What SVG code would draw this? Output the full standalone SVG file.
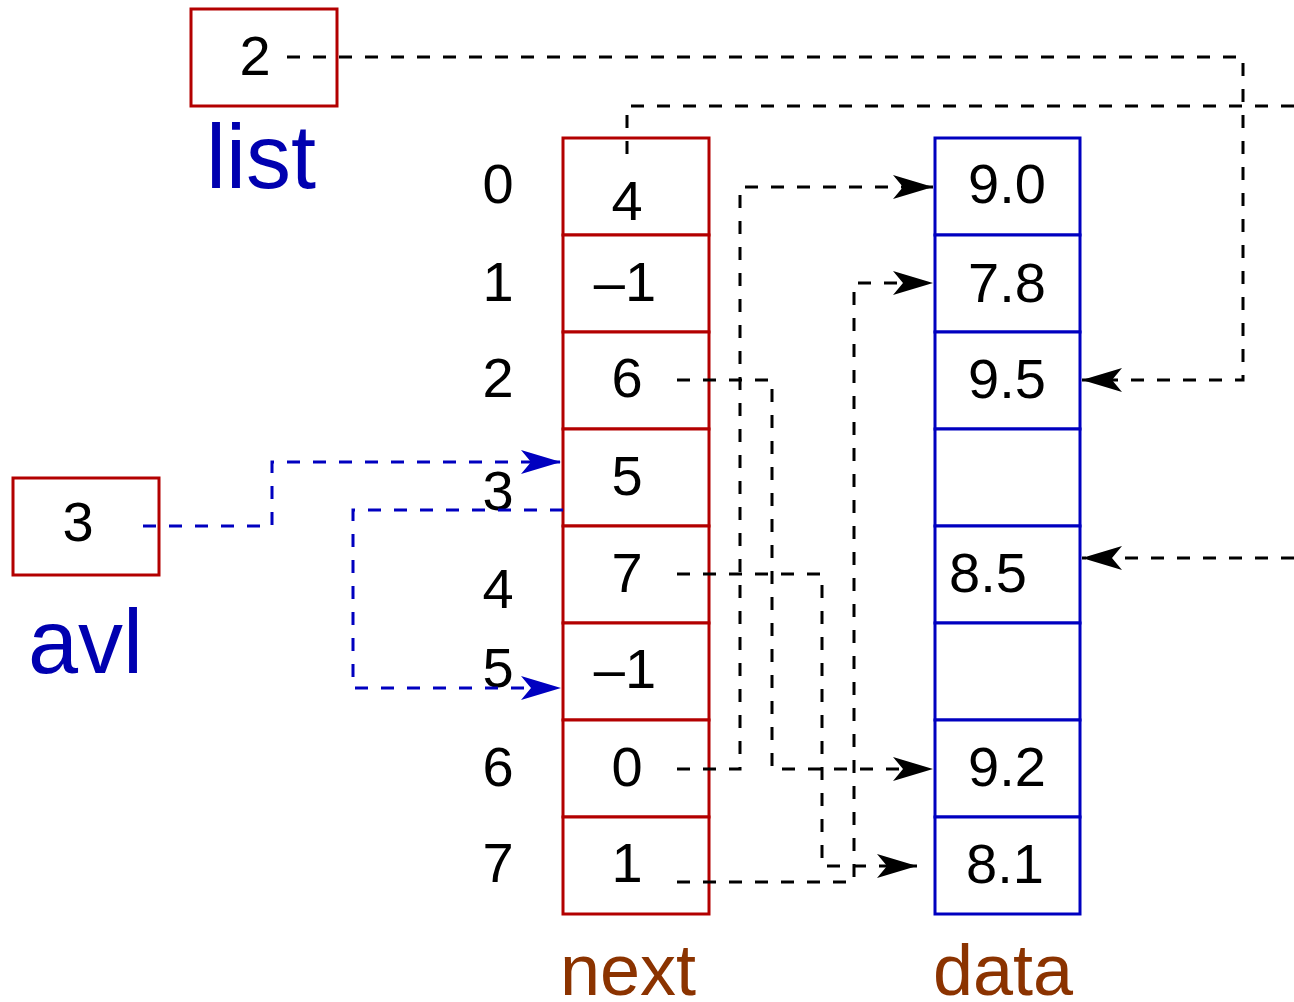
<svg xmlns="http://www.w3.org/2000/svg" width="1294" height="1002" viewBox="0 0 1294 1002">
<style>
  text { font-family: "Liberation Sans", Arial, sans-serif; }
  .num { font-size: 56px; fill: #000; text-anchor: middle; }
  .idx { font-size: 56px; fill: #000; text-anchor: middle; }
  .name { font-size: 90px; fill: #0000b0; }
  .col { font-size: 72px; fill: #8b3300; }
  .rbox { fill: #fff; stroke: #b30000; stroke-width: 3; }
  .bbox { fill: #fff; stroke: #0000c0; stroke-width: 3; }
  .ptr { fill: none; stroke: #000; stroke-width: 3; stroke-dasharray: 13 13; }
  .bptr { fill: none; stroke: #0000c0; stroke-width: 3; stroke-dasharray: 13 13; }
</style>
<defs>
  <marker id="ah" markerUnits="userSpaceOnUse" markerWidth="40" markerHeight="24" refX="40" refY="12" orient="auto" viewBox="0 0 40 24">
    <path d="M0,0 L40,12 L0,24 L10,12 Z" fill="#000" stroke="none"/>
  </marker>
  <marker id="ahb" markerUnits="userSpaceOnUse" markerWidth="40" markerHeight="24" refX="40" refY="12" orient="auto" viewBox="0 0 40 24">
    <path d="M0,0 L40,12 L0,24 L10,12 Z" fill="#0000c0" stroke="none"/>
  </marker>
</defs>
<rect width="1294" height="1002" fill="#fff"/>

<g id="list">
  <rect class="rbox" x="191" y="9" width="146" height="97"/>
  <text class="num" x="255" y="75">2</text>
  <text class="name" x="206" y="188">list</text>
</g>
<g id="avl">
  <rect class="rbox" x="13" y="478" width="146" height="97"/>
  <text class="num" x="78" y="541">3</text>
  <text class="name" x="28" y="673">avl</text>
</g>

<g id="indices">
  <text class="idx" x="498" y="203">0</text>
  <text class="idx" x="498" y="301">1</text>
  <text class="idx" x="498" y="397">2</text>
  <text class="idx" x="498" y="510">3</text>
  <text class="idx" x="498" y="608">4</text>
  <text class="idx" x="498" y="687">5</text>
  <text class="idx" x="498" y="786">6</text>
  <text class="idx" x="498" y="882">7</text>
</g>

<g id="next">
  <g id="next0"><rect class="rbox" x="563" y="138" width="146" height="97"/><text class="num" x="627" y="220">4</text></g>
  <g id="next1"><rect class="rbox" x="563" y="235" width="146" height="97"/><text class="num" x="625" y="301">–1</text></g>
  <g id="next2"><rect class="rbox" x="563" y="332" width="146" height="97"/><text class="num" x="627" y="397">6</text></g>
  <g id="next3"><rect class="rbox" x="563" y="429" width="146" height="97"/><text class="num" x="627" y="495">5</text></g>
  <g id="next4"><rect class="rbox" x="563" y="526" width="146" height="97"/><text class="num" x="627" y="592">7</text></g>
  <g id="next5"><rect class="rbox" x="563" y="623" width="146" height="97"/><text class="num" x="625" y="688">–1</text></g>
  <g id="next6"><rect class="rbox" x="563" y="720" width="146" height="97"/><text class="num" x="627" y="786">0</text></g>
  <g id="next7"><rect class="rbox" x="563" y="817" width="146" height="97"/><text class="num" x="627" y="882">1</text></g>
  <text class="col" x="560" y="995">next</text>
</g>

<g id="data">
  <g id="data0"><rect class="bbox" x="935" y="138" width="145" height="97"/><text class="num" x="1007" y="203">9.0</text></g>
  <g id="data1"><rect class="bbox" x="935" y="235" width="145" height="97"/><text class="num" x="1007" y="302">7.8</text></g>
  <g id="data2"><rect class="bbox" x="935" y="332" width="145" height="97"/><text class="num" x="1007" y="398">9.5</text></g>
  <g id="data3"><rect class="bbox" x="935" y="429" width="145" height="97"/></g>
  <g id="data4"><rect class="bbox" x="935" y="526" width="145" height="97"/><text class="num" x="949" y="592" style="text-anchor:start">8.5</text></g>
  <g id="data5"><rect class="bbox" x="935" y="623" width="145" height="97"/></g>
  <g id="data6"><rect class="bbox" x="935" y="720" width="145" height="97"/><text class="num" x="1007" y="786">9.2</text></g>
  <g id="data7"><rect class="bbox" x="935" y="817" width="145" height="97"/><text class="num" x="1005" y="883">8.1</text></g>
  <text class="col" x="933" y="995">data</text>
</g>

<g id="connectors">
  <path class="ptr" d="M287,57 H1243 V380 H1082" marker-end="url(#ah)"/>
  <path class="ptr" d="M627,154 V106 H1294"/>
  <path class="ptr" d="M677,380 H772 V769 H933" marker-end="url(#ah)"/>
  <path class="ptr" d="M677,574 H822 V866 H917" marker-end="url(#ah)"/>
  <path class="ptr" d="M677,769 H740 V187 H933" marker-end="url(#ah)"/>
  <path class="ptr" d="M677,882 H854 V283 H933" marker-end="url(#ah)"/>
  <path class="ptr" d="M1294,558 H1082" marker-end="url(#ah)"/>
  <path class="bptr" d="M143,526 H272 V462 H561" marker-end="url(#ahb)"/>
  <path class="bptr" d="M563,510 H353 V688 H561" marker-end="url(#ahb)"/>
</g>
</svg>
